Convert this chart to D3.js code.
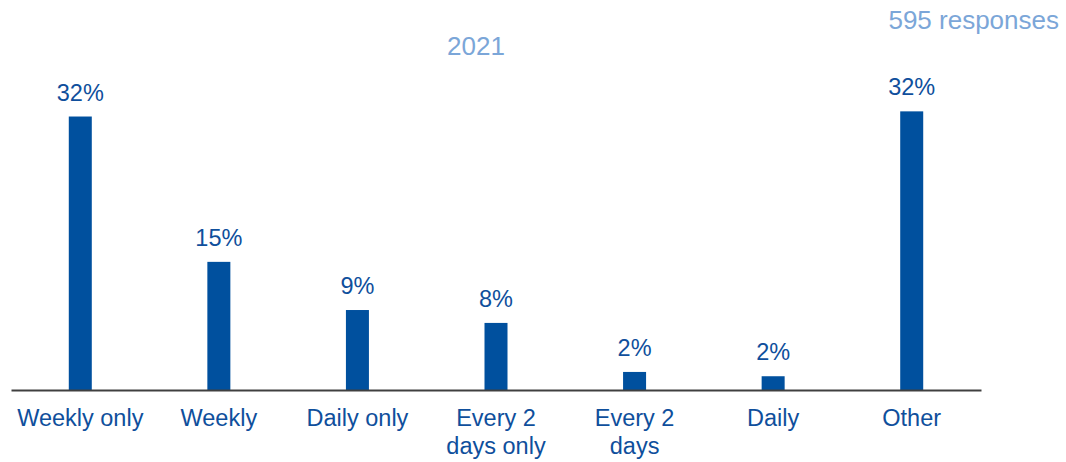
<!DOCTYPE html>
<html>
<head>
<meta charset="utf-8">
<script src="https://cdn.jsdelivr.net/npm/d3@7"></script>
<style>
  html, body { margin: 0; padding: 0; background: #fff; }
  svg { display: block; font-family: Arial, "Liberation Sans", sans-serif; }
</style>
</head>
<body>
<svg id="chart" width="1066" height="462"></svg>
<script>
// Response frequency shares, 2021
const categories = [["Weekly only"], ["Weekly"], ["Daily only"], ["Every 2", "days only"], ["Every 2", "days"], ["Daily"], ["Other"]];
const shares = [31.8, 14.9, 9.3, 7.8, 2.1, 1.6, 32.4];
const title = "2021";
const note = "595 responses";

const svg = d3.select("#chart");
const barColor = "#00509E";
const textColor = "#0F4F9C";

const x = d3.scaleBand()
  .domain(d3.range(categories.length))
  .range([11, 981])
  .paddingInner(0.834)
  .paddingOuter(0.417);

const y = d3.scaleLinear().domain([0, 40]).range([390, 46]);

// bars
svg.append("g").selectAll("rect")
  .data(shares)
  .join("rect")
  .attr("x", (d, i) => x(i))
  .attr("width", x.bandwidth())
  .attr("y", d => y(d))
  .attr("height", d => y(0) - y(d))
  .attr("fill", barColor);

// value labels
svg.append("g").selectAll("text")
  .data(shares)
  .join("text")
  .attr("x", (d, i) => x(i) + x.bandwidth() / 2)
  .attr("y", d => y(d) - 16)
  .attr("text-anchor", "middle")
  .attr("font-size", 23.5)
  .attr("fill", textColor)
  .text(d => d3.format(".0f")(d) + "%");

// baseline axis
const axis = d3.axisBottom(x).tickSize(0).tickFormat(() => "");
const gAxis = svg.append("g").attr("transform", `translate(0,${y(0)})`).call(axis);
gAxis.select(".domain").attr("stroke", "#404040").attr("stroke-width", 2.2);

// category labels
const labels = svg.append("g").selectAll("text")
  .data(categories)
  .join("text")
  .attr("x", (d, i) => x(i) + x.bandwidth() / 2)
  .attr("y", 426)
  .attr("text-anchor", "middle")
  .attr("font-size", 23.5)
  .attr("fill", textColor);
labels.selectAll("tspan")
  .data(d => d)
  .join("tspan")
  .attr("x", function() { return d3.select(this.parentNode).attr("x"); })
  .attr("dy", (d, j) => j === 0 ? 0 : 28)
  .text(d => d);

// title and response count
svg.append("text")
  .attr("x", 476).attr("y", 55)
  .attr("text-anchor", "middle")
  .attr("font-size", 26)
  .attr("fill", "#7BA6D8")
  .text(title);

svg.append("text")
  .attr("x", 1059).attr("y", 28.5)
  .attr("text-anchor", "end")
  .attr("font-size", 26)
  .attr("fill", "#7BA6D8")
  .text(note);
</script>
</body>
</html>
